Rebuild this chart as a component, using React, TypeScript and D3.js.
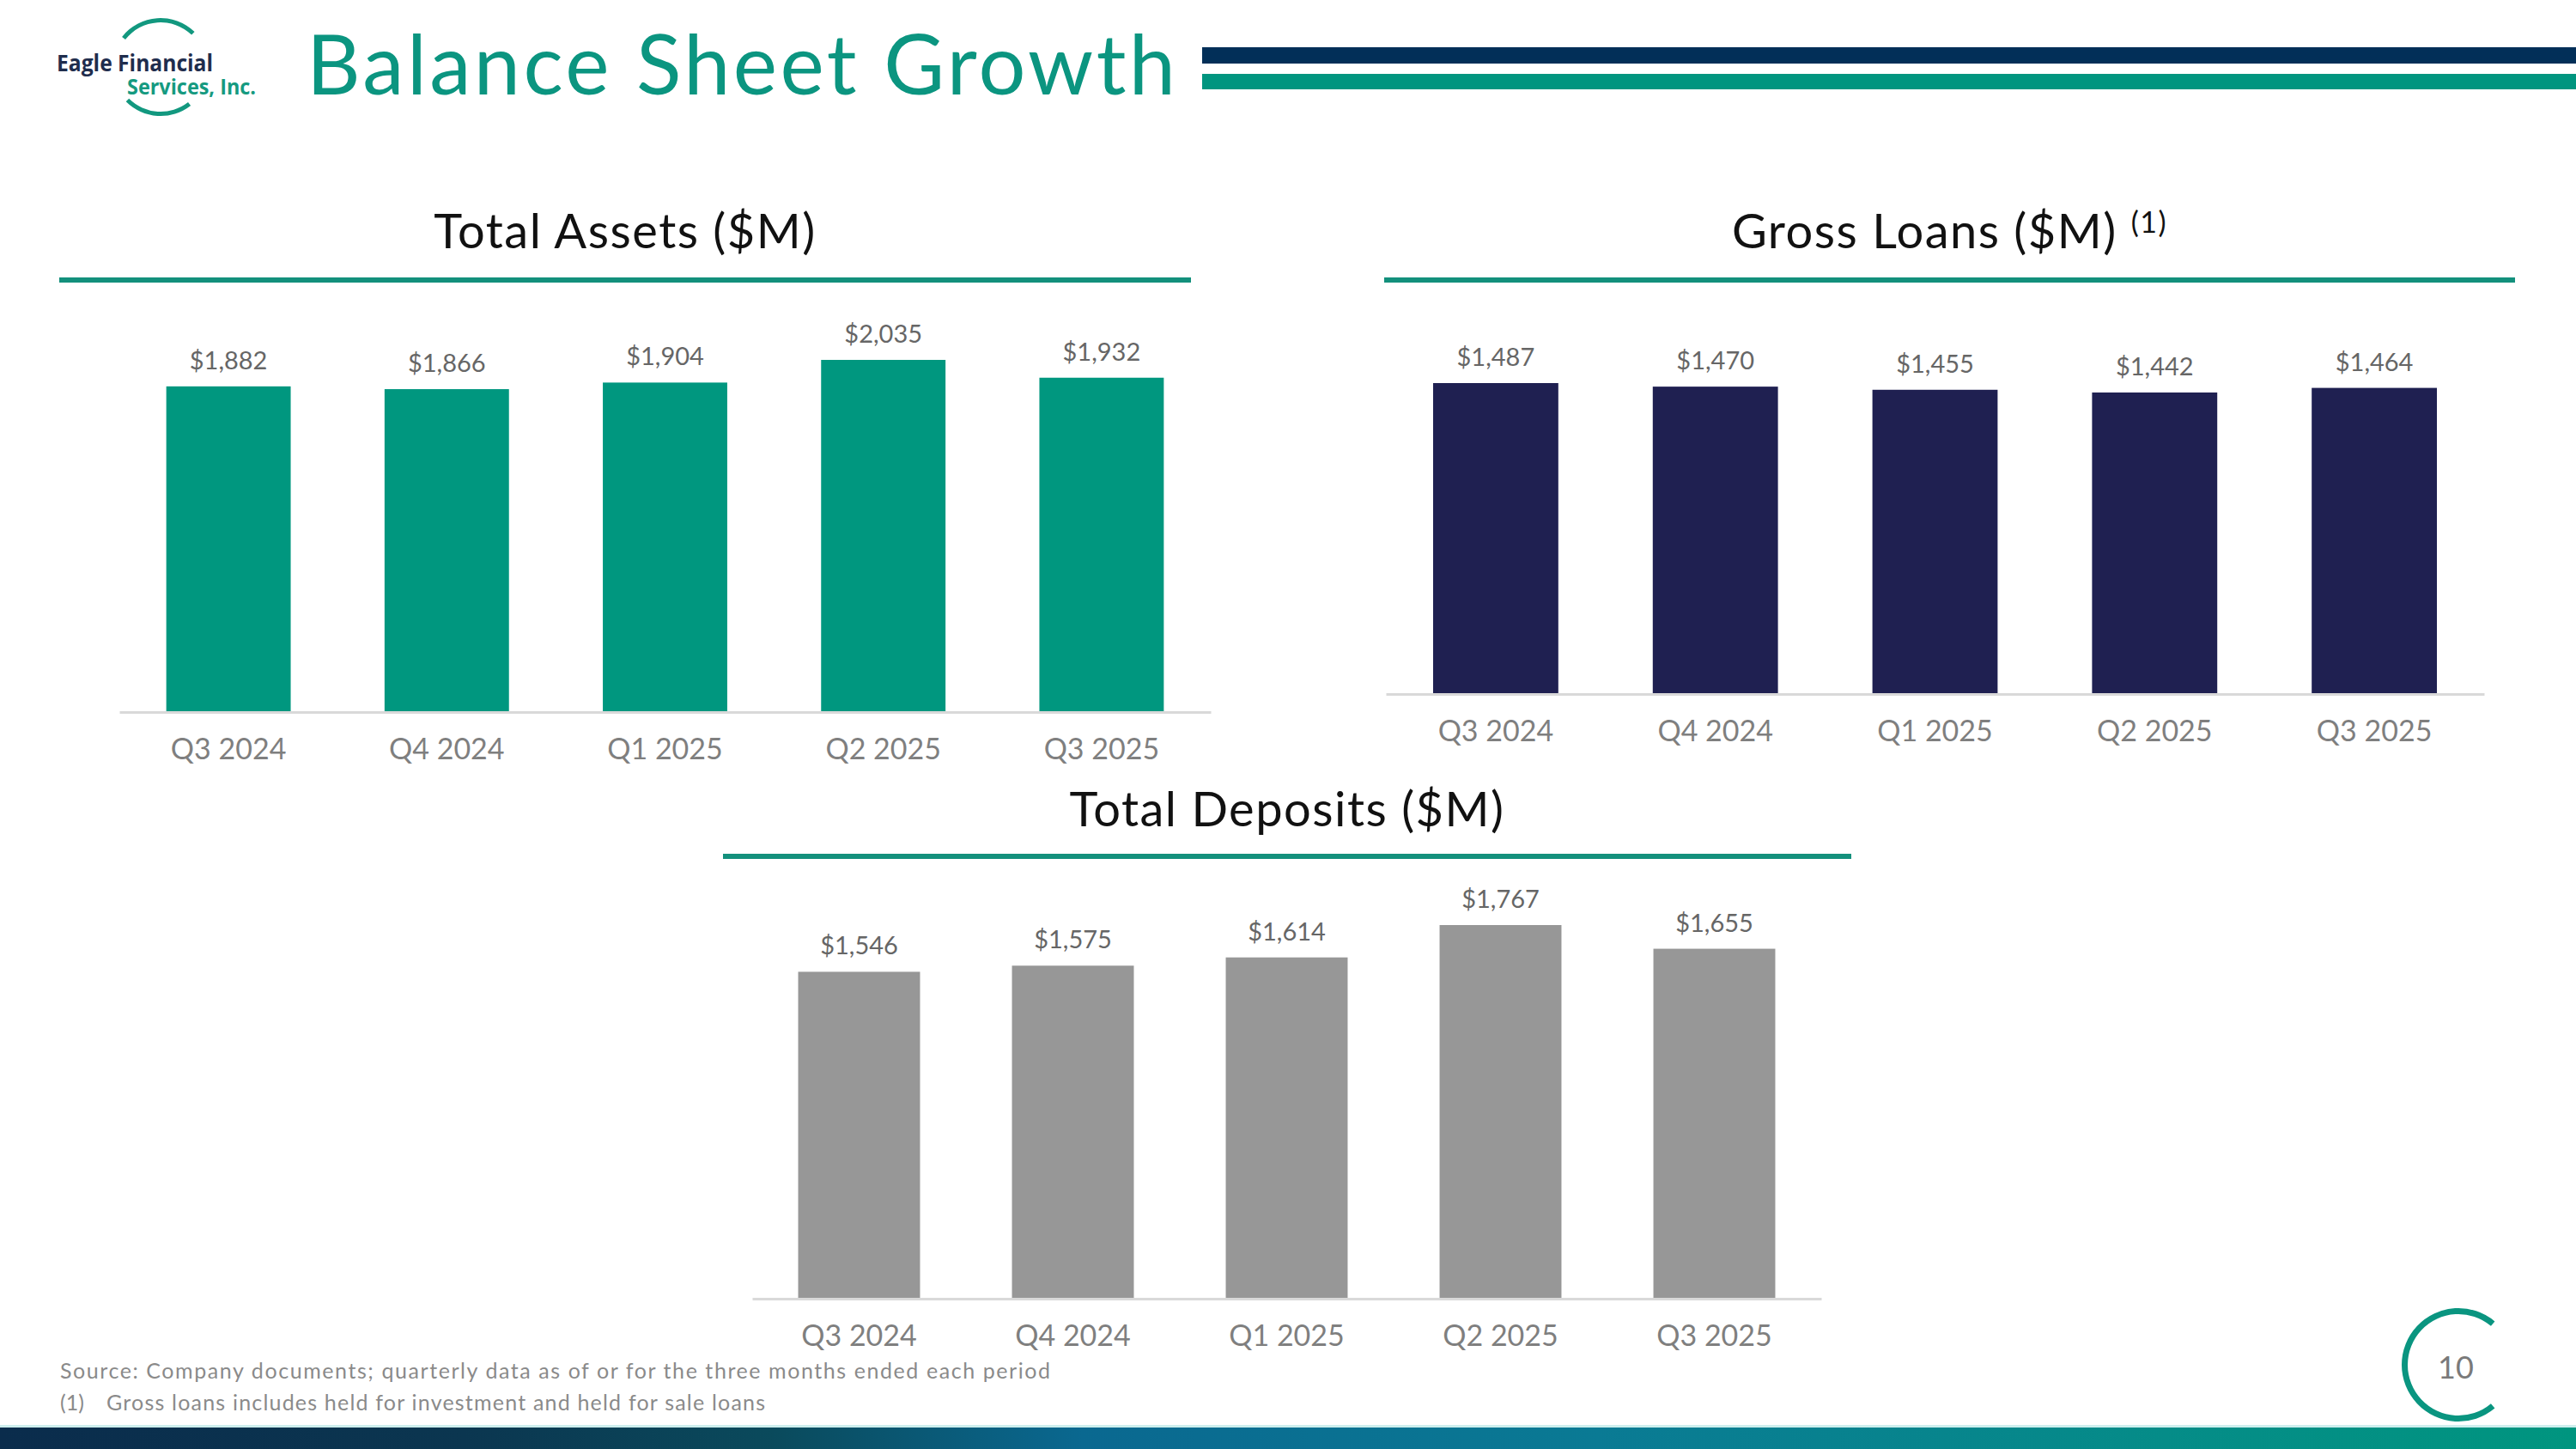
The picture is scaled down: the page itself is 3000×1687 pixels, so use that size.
import React, { useEffect, useRef } from "react";
import * as d3 from "d3";

// quarterly balance sheet figures, $M
const quarters = ["Q3 2024", "Q4 2024", "Q1 2025", "Q2 2025", "Q3 2025"];
const totalAssets = [1882, 1866, 1904, 2035, 1932];
const grossLoans = [1487, 1470, 1455, 1442, 1464];
const totalDeposits = [1546, 1575, 1614, 1767, 1655];

const footnotes = [
  "Source: Company documents; quarterly data as of or for the three months ended each period",
  "Gross loans includes held for investment and held for sale loans",
];

const W = 3000;
const H = 1687;
const FONT = "Lato, 'Open Sans', sans-serif";

// where each chart sits on the slide
const panels = [
  { title: "Total Assets ($M)", sup: "", values: totalAssets, color: "#00977f",
    x0: 139, x1: 1410, axisY: 829, topY: 419, titleY: 289, ruleX0: 69, ruleX1: 1387, ruleY: 326 },
  { title: "Gross Loans ($M)", sup: "(1)", values: grossLoans, color: "#1f2051",
    x0: 1614, x1: 2893, axisY: 808, topY: 446, titleY: 289, ruleX0: 1612, ruleX1: 2929, ruleY: 326 },
  { title: "Total Deposits ($M)", sup: "", values: totalDeposits, color: "#979797",
    x0: 876, x1: 2121, axisY: 1512, topY: 1077, titleY: 962, ruleX0: 842, ruleX1: 2156, ruleY: 997 },
];

const money = (v: number) => "$" + d3.format(",")(v);

const App = () => {
  const svgRef = useRef<SVGSVGElement>(null);

  useEffect(() => {
    const svg = d3.select(svgRef.current);
    svg.selectAll("*").remove();

    svg.append("rect").attr("width", W).attr("height", H).attr("fill", "#ffffff");

    // bottom strip gradient
    const defs = svg.append("defs");
    const grad = defs.append("linearGradient").attr("id", "strip").attr("x1", "0%").attr("x2", "100%");
    [
      [0, "#0a2c4c"], [0.18, "#0b3650"], [0.3, "#0a4a5c"], [0.42, "#0a6890"],
      [0.62, "#0a7a94"], [0.84, "#058c88"], [1, "#00957f"],
    ].forEach(([o, c]) => grad.append("stop").attr("offset", o as number).attr("stop-color", c as string));

    // logo
    const logo = svg.append("g");
    const arc = d3.arc();
    const deg = (a: number) => (a * Math.PI) / 180;
    // d3.arc angles: 0 at 12 o'clock, clockwise
    [[-52, 44], [142, 225]].forEach(([a0, a1]) => {
      logo.append("path")
        .attr("transform", "translate(187,78)")
        .attr("d", arc({ innerRadius: 52, outerRadius: 57, startAngle: deg(a0), endAngle: deg(a1) }) as string)
        .attr("fill", "#12987f");
    });
    logo.append("text")
      .attr("x", 66).attr("y", 83)
      .attr("textLength", 182).attr("lengthAdjust", "spacingAndGlyphs")
      .attr("font-family", "'Open Sans', sans-serif").attr("font-weight", 700)
      .attr("font-size", 26).attr("fill", "#1f2d4d")
      .text("Eagle Financial");
    logo.append("text")
      .attr("x", 148).attr("y", 110)
      .attr("textLength", 150).attr("lengthAdjust", "spacingAndGlyphs")
      .attr("font-family", "'Open Sans', sans-serif").attr("font-weight", 700)
      .attr("font-size", 25).attr("fill", "#159a80")
      .text("Services, Inc.");

    // slide title and header bars
    svg.append("text")
      .attr("x", 357).attr("y", 110)
      .attr("textLength", 1012)
      .attr("font-family", FONT).attr("font-weight", 400)
      .attr("font-size", 97).attr("fill", "#0b9580")
      .text("Balance Sheet Growth");
    svg.append("rect").attr("x", 1400).attr("y", 55).attr("width", W - 1400).attr("height", 19).attr("fill", "#022f58");
    svg.append("rect").attr("x", 1400).attr("y", 86).attr("width", W - 1400).attr("height", 18).attr("fill", "#00957f");

    // bar panels
    panels.forEach(p => {
      const g = svg.append("g");

      const x = d3.scaleBand<string>()
        .domain(quarters)
        .range([p.x0, p.x1])
        .paddingInner(0.43)
        .paddingOuter(0.215);

      const y = d3.scaleLinear()
        .domain([0, d3.max(p.values) as number])
        .range([p.axisY, p.topY]);

      // title with teal rule
      const cx = (p.ruleX0 + p.ruleX1) / 2;
      const t = g.append("text")
        .attr("x", cx).attr("y", p.titleY)
        .attr("text-anchor", "middle")
        .attr("letter-spacing", 1.5)
        .attr("font-family", FONT).attr("font-size", 56).attr("fill", "#111111");
      t.append("tspan").text(p.title);
      if (p.sup) {
        t.append("tspan").attr("dx", 16).attr("dy", -18).attr("font-size", 34).text(p.sup);
      }
      g.append("rect")
        .attr("x", p.ruleX0).attr("y", p.ruleY - 3)
        .attr("width", p.ruleX1 - p.ruleX0).attr("height", 6)
        .attr("fill", "#13907c");

      // bars
      g.selectAll(".bar")
        .data(p.values)
        .enter()
        .append("rect")
        .attr("class", "bar")
        .attr("x", (_, i) => x(quarters[i]) as number)
        .attr("y", d => y(d))
        .attr("width", x.bandwidth())
        .attr("height", d => y(0) - y(d))
        .attr("fill", p.color);

      // value labels
      g.selectAll(".val")
        .data(p.values)
        .enter()
        .append("text")
        .attr("class", "val")
        .attr("x", (_, i) => (x(quarters[i]) as number) + x.bandwidth() / 2)
        .attr("y", d => y(d) - 20)
        .attr("text-anchor", "middle")
        .attr("font-family", FONT).attr("font-size", 29).attr("fill", "#666666")
        .text(d => money(d));

      // category axis
      const axis = g.append("g")
        .attr("transform", `translate(0,${p.axisY})`)
        .call(d3.axisBottom(x).tickSize(0).tickPadding(31));
      axis.select(".domain").attr("stroke", "#d9d9d9").attr("stroke-width", 3);
      axis.selectAll(".tick text")
        .attr("font-family", FONT).attr("font-size", 34).attr("fill", "#7f7f7f")
        .attr("dy", "0.71em");
    });

    // footnotes
    svg.append("text")
      .attr("x", 70).attr("y", 1605)
      .attr("textLength", 1153)
      .attr("font-family", FONT).attr("font-size", 25).attr("fill", "#8a8a8a")
      .text(footnotes[0]);
    svg.append("text")
      .attr("x", 70).attr("y", 1642)
      .attr("font-family", FONT).attr("font-size", 25).attr("fill", "#8a8a8a")
      .text("(1)");
    svg.append("text")
      .attr("x", 124).attr("y", 1642)
      .attr("textLength", 767)
      .attr("font-family", FONT).attr("font-size", 25).attr("fill", "#8a8a8a")
      .text(footnotes[1]);

    // page number, ring open to the right
    svg.append("path")
      .attr("transform", "translate(2863,1589)")
      .attr("d", arc({ innerRadius: 59, outerRadius: 66, startAngle: deg(140), endAngle: deg(400) }) as string)
      .attr("fill", "#0a9580");
    svg.append("text")
      .attr("x", 2860).attr("y", 1605)
      .attr("text-anchor", "middle")
      .attr("font-family", FONT).attr("font-size", 36).attr("fill", "#7a7a7a")
      .text("10");

    // bottom strip
    svg.append("rect").attr("x", 0).attr("y", 1659).attr("width", W).attr("height", 3).attr("fill", "#cdeeed");
    svg.append("rect").attr("x", 0).attr("y", 1662).attr("width", W).attr("height", H - 1662).attr("fill", "url(#strip)");
  }, []);

  return (
    <svg
      ref={svgRef}
      width={W}
      height={H}
      style={{ position: "absolute", left: 0, top: 0, display: "block" }}
    />
  );
};

export default App;
